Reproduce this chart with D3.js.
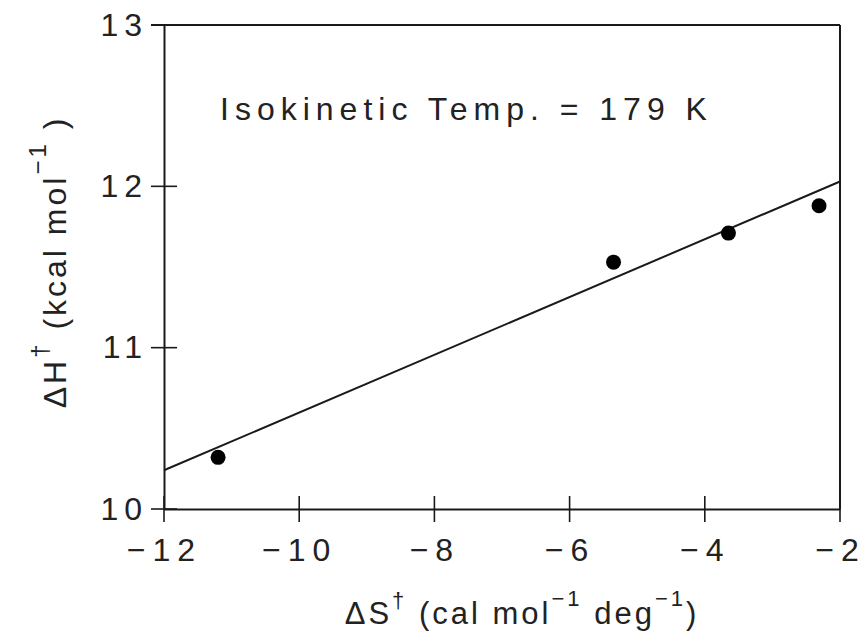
<!DOCTYPE html>
<html>
<head>
<meta charset="utf-8">
<script src="https://cdn.jsdelivr.net/npm/d3@7"></script>
<style>
  body { margin: 0; background: #fff; }
  svg { display: block; font-family: 'Liberation Sans', Arial, sans-serif; }
</style>
</head>
<body>
<div class="viz"></div>
<script>
// measured points: activation entropy vs enthalpy
const entropy = [-11.2, -5.35, -3.65, -2.31];
const enthalpy = [10.32, 11.53, 11.71, 11.88];
// fitted isokinetic line, end points
const fitEntropy = [-12, -2];
const fitEnthalpy = [10.24, 12.03];
const xTicks = [-12, -10, -8, -6, -4, -2];
const yTicks = [10, 11, 12, 13];
const note = 'Isokinetic Temp. = 179 K';

const width = 868;
const height = 638;
const margin = { top: 25, right: 28, bottom: 129, left: 164 };
const ink = '#1a1a1a';

const svg = d3.select('.viz')
  .append('svg')
  .attr('width', width)
  .attr('height', height);

const xScale = d3.scaleLinear()
  .domain([-12, -2])
  .range([margin.left, width - margin.right]);

const yScale = d3.scaleLinear()
  .domain([10, 13])
  .range([height - margin.bottom, margin.top]);

const tick = 13;

// frame: right and top edges
svg.append('line')
  .attr('x1', xScale(-12) - tick).attr('x2', xScale(-2))
  .attr('y1', yScale(13)).attr('y2', yScale(13))
  .attr('stroke', ink).attr('stroke-width', 2);
svg.append('line')
  .attr('x1', xScale(-2)).attr('x2', xScale(-2))
  .attr('y1', yScale(13)).attr('y2', yScale(10))
  .attr('stroke', ink).attr('stroke-width', 2);

// bottom axis, labels from d3, ticks drawn across the line
const xAxis = svg.append('g')
  .attr('transform', `translate(0 ${yScale(10)})`)
  .call(d3.axisBottom(xScale).tickValues(xTicks).tickSize(0).tickPadding(28));

xAxis.select('.domain').attr('stroke', ink).attr('stroke-width', 2);
xAxis.selectAll('.tick text')
  .attr('font-size', 32)
  .attr('fill', '#222')
  .attr('dy', '0.75em')
  .style('letter-spacing', '7px')
  .attr('font-family', "'Liberation Sans', Arial, sans-serif");

xAxis.selectAll('.cross')
  .data(xTicks)
  .enter()
  .append('line')
  .attr('class', 'cross')
  .attr('x1', d => xScale(d))
  .attr('x2', d => xScale(d))
  .attr('y1', d => (d === -2 ? 0 : -tick))
  .attr('y2', tick)
  .attr('stroke', ink)
  .attr('stroke-width', 1.6);

// left axis
const yAxis = svg.append('g')
  .attr('transform', `translate(${xScale(-12)} 0)`)
  .call(d3.axisLeft(yScale).tickValues(yTicks).tickFormat(d3.format('d')).tickSize(0).tickPadding(16));

yAxis.select('.domain').attr('stroke', ink).attr('stroke-width', 2);
yAxis.selectAll('.tick text')
  .attr('font-size', 32)
  .attr('fill', '#222')
  .style('letter-spacing', '6px')
  .attr('font-family', "'Liberation Sans', Arial, sans-serif");

yAxis.selectAll('.cross')
  .data(yTicks)
  .enter()
  .append('line')
  .attr('class', 'cross')
  .attr('x1', -tick)
  .attr('x2', d => (d === 13 ? 0 : tick))
  .attr('y1', d => yScale(d))
  .attr('y2', d => yScale(d))
  .attr('stroke', ink)
  .attr('stroke-width', 1.6);

// fitted line
const line = d3.line()
  .x(d => xScale(d[0]))
  .y(d => yScale(d[1]));

svg.append('path')
  .attr('d', line(d3.zip(fitEntropy, fitEnthalpy)))
  .attr('fill', 'none')
  .attr('stroke', ink)
  .attr('stroke-width', 2);

// data points
svg.append('g')
  .selectAll('circle')
  .data(d3.zip(entropy, enthalpy))
  .enter()
  .append('circle')
  .attr('cx', d => xScale(d[0]))
  .attr('cy', d => yScale(d[1]))
  .attr('r', 7.5)
  .attr('fill', '#000');

// annotation
svg.append('text')
  .attr('x', 220)
  .attr('y', 120)
  .attr('font-size', 32)
  .attr('fill', '#222')
  .style('letter-spacing', '6px')
  .text(note);

// x axis title
const xTitle = svg.append('text')
  .attr('x', 522)
  .attr('y', 624)
  .attr('text-anchor', 'middle')
  .attr('font-size', 31)
  .attr('fill', '#222')
  .style('letter-spacing', '3px');
xTitle.append('tspan').text('ΔS');
xTitle.append('tspan').attr('dy', -16).attr('font-size', 22).text('†');
xTitle.append('tspan').attr('dy', 16).text(' (cal mol');
xTitle.append('tspan').attr('dy', -18).attr('font-size', 22).text('−1');
xTitle.append('tspan').attr('dy', 18).text('  deg');
xTitle.append('tspan').attr('dy', -18).attr('font-size', 22).text('−1');
xTitle.append('tspan').attr('dy', 18).text(')');

// y axis title
const yTitle = svg.append('text')
  .attr('transform', 'translate(66 262) rotate(-90)')
  .attr('text-anchor', 'middle')
  .attr('font-size', 32)
  .attr('fill', '#222')
  .style('letter-spacing', '3px');
yTitle.append('tspan').text('ΔH');
yTitle.append('tspan').attr('dy', -18).attr('font-size', 24).text('†');
yTitle.append('tspan').attr('dy', 18).text(' (kcal mol');
yTitle.append('tspan').attr('dy', -20).attr('font-size', 24).text('−1');
yTitle.append('tspan').attr('dy', 20).text(' )');
</script>
</body>
</html>
